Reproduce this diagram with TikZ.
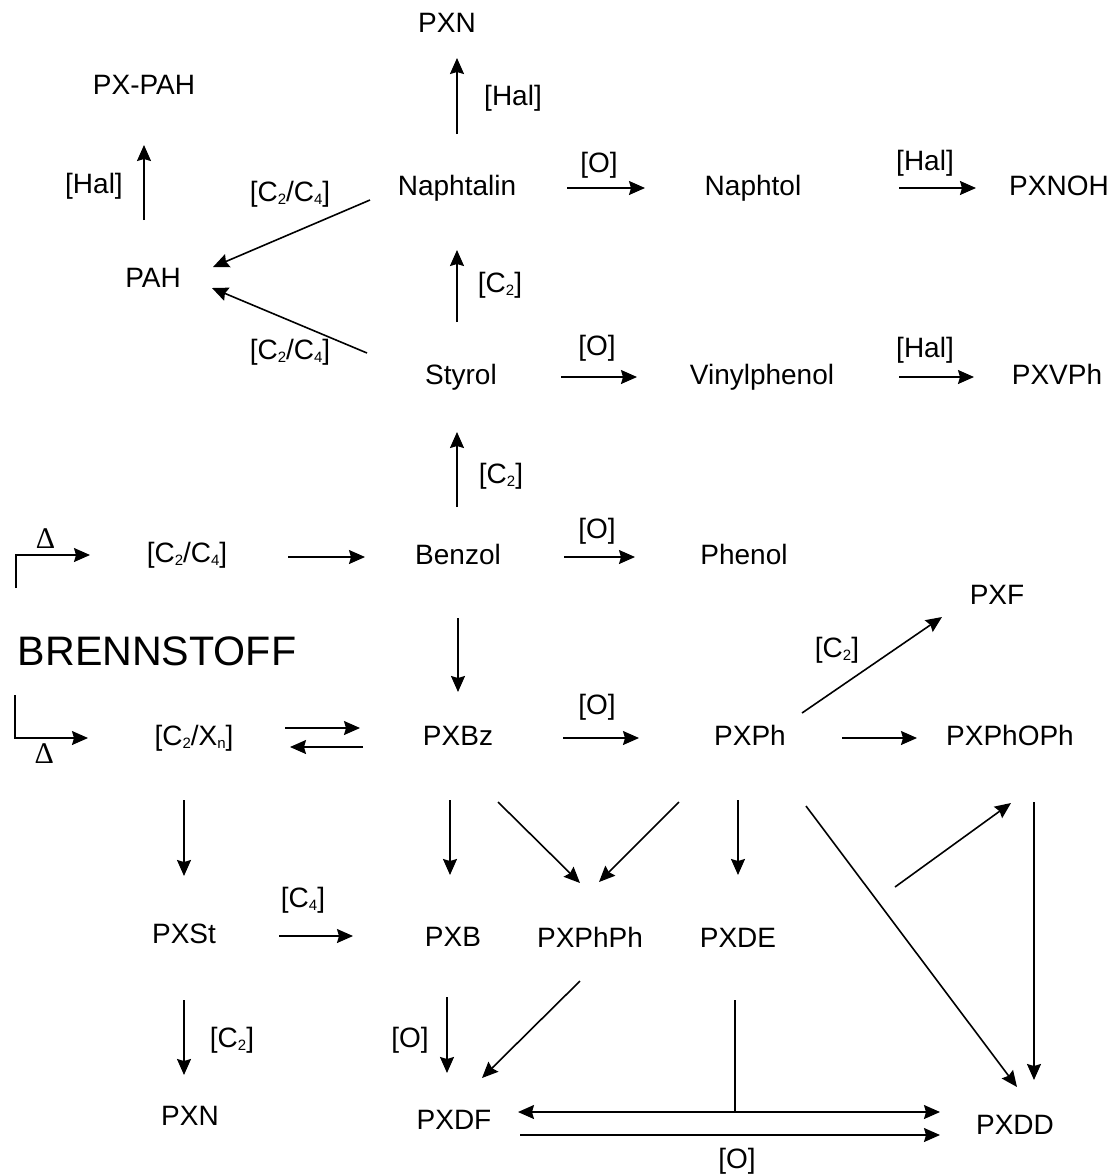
\documentclass[tikz,border=0pt]{standalone}
\usepackage{fontspec}
\setmainfont{Liberation Sans}
\newfontfamily\deltafont{Liberation Serif}
\usetikzlibrary{calc, arrows.meta}
\newcommand{\chsub}[1]{\raisebox{-1.5pt}{\fontsize{7.5}{8}\selectfont#1}}

\begin{document}
\begin{tikzpicture}[x=0.5pt, y=-0.5pt, line width=0.8pt,
  >={Stealth[length=8pt, width=7pt, inset=1pt]},
  every node/.style={inner sep=0pt, text height=0.72em, text depth=0pt, font=\fontsize{14}{17}\selectfont},
  arr/.style={->},
  dbl/.style={<->},
  delta/.style={font=\deltafont\fontsize{15}{17}\selectfont}]
  \useasboundingbox (0,0) rectangle (1117,1175);

  \node (pxnTop) at (447,25) {PXN};
  \node (pxpah) at (144,87) {PX-PAH};
  \node (naph) at (457,188) {Naphtalin};
  \node (naphtol) at (753,188) {Naphtol};
  \node (pxnoh) at (1059,188) {PXNOH};
  \node (pah) at (153,280) {PAH};
  \node (styrol) at (461,377) {Styrol};
  \node (vinyl) at (762,377) {Vinylphenol};
  \node (pxvph) at (1057,377) {PXVPh};
  \node (cc) at (187,555) {[C\chsub{2}/C\chsub{4}]};
  \node (benzol) at (458,557) {Benzol};
  \node (phenol) at (744,557) {Phenol};
  \node (pxf) at (997,597) {PXF};
  \node[anchor=west, font=\fontsize{20.6}{24}\selectfont] (brenn) at (17,658) {BRENNSTOFF};
  \node (cx) at (194,738) {[C\chsub{2}/X\chsub{n}]};
  \node (pxbz) at (458,738) {PXBz};
  \node (pxph) at (750,738) {PXPh};
  \node (pxphoph) at (1010,738) {PXPhOPh};
  \node (pxst) at (184,936) {PXSt};
  \node (pxb) at (453,939) {PXB};
  \node (pxphph) at (590,940) {PXPhPh};
  \node (pxde) at (738,940) {PXDE};
  \node (pxnBot) at (190,1118) {PXN};
  \node (pxdf) at (454,1122) {PXDF};
  \node (pxdd) at (1015,1127) {PXDD};

  \node (hal1) at (94,186) {[Hal]};
  \node (hal2) at (513,98) {[Hal]};
  \node (cc1) at (290,194) {[C\chsub{2}/C\chsub{4}]};
  \node (ox1) at (599,165) {[O]};
  \node (hal3) at (925,163) {[Hal]};
  \node (ctwo1) at (500,285) {[C\chsub{2}]};
  \node (cc2) at (290,352) {[C\chsub{2}/C\chsub{4}]};
  \node (ox2) at (597,348) {[O]};
  \node (hal4) at (925,350) {[Hal]};
  \node (ctwo2) at (501,476) {[C\chsub{2}]};
  \node (ox3) at (597,531) {[O]};
  \node (ctwo3) at (837,650) {[C\chsub{2}]};
  \node (ox4) at (597,707) {[O]};
  \node (cfour) at (303,900) {[C\chsub{4}]};
  \node (ctwo4) at (232,1040) {[C\chsub{2}]};
  \node (ox5) at (410,1040) {[O]};
  \node (ox6) at (737,1161) {[O]};

  \draw[arr, shorten <=30pt, shorten >=29pt] (pxpah.center |- pah.center) -- (pxpah.center);
  \draw[arr, shorten <=27pt, shorten >=16.5pt] (naph.center) -- (naph.center |- pxnTop.center);
  \draw[arr] ([shift={(-87,12)}]naph.center) -- ([shift={(60,-13)}]pah.center);
  \draw[arr] ([shift={(-94,-24)}]styrol.center) -- ([shift={(59,8)}]pah.center);
  \draw[arr, shorten <=55pt, shorten >=54pt] (naph.center) -- (naphtol.center);
  \draw[arr, shorten <=73pt, shorten >=41.5pt] (naphtol.center) -- (pxnoh.center);
  \draw[arr, shorten <=27.5pt, shorten >=31pt] (naph.center |- styrol.center) -- (naph.center);
  \draw[arr, shorten <=50pt, shorten >=62.5pt] (styrol.center) -- (vinyl.center);
  \draw[arr, shorten <=68.5pt, shorten >=41.5pt] (vinyl.center) -- (pxvph.center);
  \draw[arr, shorten <=25pt, shorten >=27.5pt] (naph.center |- benzol.center) -- (naph.center |- styrol.center);

  \draw[arr] ([shift={(-1,-70)}]brenn.west) |- ([xshift=-48.5pt]cc.center)
    node[delta, pos=0.7, above=3pt] (dtop) {Δ};
  \draw[arr] ([shift={(-2,37)}]brenn.west) |- ([xshift=-53pt]cx.center)
    node[delta, pos=0.7, below=5pt] (dbot) {Δ};

  \draw[arr, shorten <=50.5pt, shorten >=46.5pt] (benzol.center -| cc.center) -- (benzol.center);
  \draw[arr, shorten <=53pt, shorten >=54.5pt] (benzol.center) -- (phenol.center);
  \draw[arr, shorten <=30.5pt, shorten >=23pt] (benzol.center) -- (pxbz.center);
  \draw[arr, shorten <=45.5pt, shorten >=49pt] ([yshift=5pt]cx.center) -- ([yshift=5pt]pxbz.center);
  \draw[arr, shorten <=47.5pt, shorten >=48pt] ([yshift=-4.5pt]pxbz.center) -- ([yshift=-4.5pt]cx.center);
  \draw[arr, shorten <=52.5pt, shorten >=55.5pt] (pxbz.center) -- (pxph.center);
  \draw[arr] ([shift={(52,-25)}]pxph.center) -- ([shift={(-55,20)}]pxf.center);
  \draw[arr, shorten <=46pt, shorten >=46.5pt] (pxph.center) -- (pxphoph.center);

  \draw[arr, shorten <=31pt, shorten >=30pt] (pxst.center |- cx.center) -- (pxst.center);
  \draw[arr, shorten <=31pt, shorten >=32pt] ($(pxb.center |- pxbz.center)+(-3,0)$) -- ($(pxb.center)+(-3,0)$);
  \draw[arr] ([shift={(40,64)}]pxbz.center) -- ([shift={(-10,-57)}]pxphph.center);
  \draw[arr] ([shift={(-71,64)}]pxph.center) -- ([shift={(9,-58)}]pxphph.center);
  \draw[arr, shorten <=31pt, shorten >=32.5pt] (pxde.center |- pxph.center) -- (pxde.center);
  \draw[arr] ([shift={(56,68)}]pxph.center) -- ([shift={(2,-40)}]pxdd.center);
  \coordinate (fork) at (895,887);
  \draw[arr] (fork) -- ([shift={(1,65)}]pxphoph.center);
  \draw[arr] ([shift={(24,64)}]pxphoph.center) -- ([shift={(19,-47)}]pxdd.center);

  \draw[arr, shorten <=47.5pt, shorten >=50pt] (pxst.center) -- (pxst.center -| pxb.center);
  \draw[arr, shorten <=32pt, shorten >=21.5pt] (pxst.center) -- (pxst.center |- pxnBot.center);
  \draw[arr, shorten <=29pt, shorten >=24.5pt] ($(pxb.center)+(-6,0)$) -- ($(pxb.center |- pxdf.center)+(-6,0)$);
  \draw[arr] ([shift={(-10,41)}]pxphph.center) -- ([shift={(28,-44)}]pxdf.center);
  \draw[dbl] ([shift={(64,-10)}]pxdf.center) -- ([shift={(-75,-15)}]pxdd.center);
  \draw ($(pxde.center)+(-3,60)$) -- ($(pxde.center)+(-3,172)$);
  \draw[arr] ([shift={(66,13)}]pxdf.center) -- ([shift={(-75,8)}]pxdd.center);
\end{tikzpicture}
\end{document}
